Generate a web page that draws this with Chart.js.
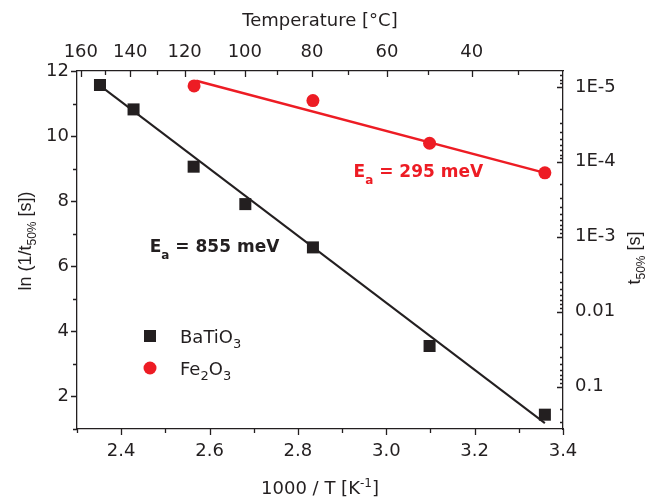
<!DOCTYPE html>
<html>
<head>
<meta charset="utf-8">
<title>Arrhenius plot</title>
<script src="https://cdn.jsdelivr.net/npm/chart.js@4.4.1/dist/chart.umd.min.js"></script>
<style>
  html, body { margin: 0; padding: 0; background: #fff; }
  canvas { display: block; }
</style>
</head>
<body>
<canvas id="arrhenius" width="648" height="497"></canvas>
<script>
// measured points: 1000/T [1/K] against ln(1/t50%)
const invT_BaTiO3 = [2.352, 2.428, 2.564, 2.681, 2.834, 3.098, 3.359];
const lnRate_BaTiO3 = [11.57, 10.82, 9.06, 7.91, 6.58, 3.55, 1.44];
const invT_Fe2O3 = [2.565, 2.834, 3.098, 3.359];
const lnRate_Fe2O3 = [11.54, 11.09, 9.78, 8.87];

// fitted Arrhenius lines (end points)
const fitX_BaTiO3 = [2.352, 3.359];
const fitY_BaTiO3 = [11.55, 1.18];
const fitX_Fe2O3 = [2.570, 3.359];
const fitY_Fe2O3 = [11.70, 8.87];

// axes
const invTTicks = [2.4, 2.6, 2.8, 3.0, 3.2, 3.4];
const invTMinor = [2.3, 2.5, 2.7, 2.9, 3.1, 3.3];
const lnTicks = [2, 4, 6, 8, 10, 12];
const lnMinor = [1, 3, 5, 7, 9, 11];
const tempTicks = [160, 140, 120, 100, 80, 60, 40];
const tempMinor = [150, 130, 110, 90, 70, 50, 30];
const t50Ticks = ['1E-5', '1E-4', '1E-3', '0.01', '0.1'];

const INK = '#231f20';
const RED = '#ed1c24';
const SANS = '"DejaVu Sans", sans-serif';
const ARIAL = '"Liberation Sans", Arial, sans-serif';

const toInvT = T => 1000 / (T + 273.15);
const toLn = t => -Math.log(t);

function pts(xs, ys) {
  return xs.map((x, i) => ({ x: x, y: ys[i] }));
}

// text with sub/superscripts: parts = [[text, 'sub'|'sup'|null], ...]
function partsWidth(ctx, parts, font, small) {
  let w = 0;
  parts.forEach(([t, k]) => { ctx.font = k ? small : font; w += ctx.measureText(t).width; });
  return w;
}
function drawParts(ctx, parts, x, y, font, small, subDy, supDy) {
  parts.forEach(([t, k]) => {
    ctx.font = k ? small : font;
    const dy = k === 'sub' ? subDy : (k === 'sup' ? supDy : 0);
    ctx.fillText(t, x, y + dy);
    x += ctx.measureText(t).width;
  });
}

const decorPlugin = {
  id: 'decor',
  afterDraw(chart) {
    const ctx = chart.ctx;
    const ca = chart.chartArea;
    const sx = chart.scales.x, sy = chart.scales.y;
    const sTop = chart.scales.xTop, sRight = chart.scales.yRight;
    ctx.save();
    ctx.strokeStyle = INK;
    ctx.lineWidth = 1.3;
    ctx.beginPath();
    // left: outward
    lnTicks.forEach(v => { const p = Math.round(sy.getPixelForValue(v)) + 0.5; ctx.moveTo(ca.left, p); ctx.lineTo(ca.left - 6, p); });
    lnMinor.forEach(v => { const p = Math.round(sy.getPixelForValue(v)) + 0.5; ctx.moveTo(ca.left, p); ctx.lineTo(ca.left - 4, p); });
    // bottom: outward
    invTTicks.forEach(v => { const p = Math.round(sx.getPixelForValue(v)) + 0.5; ctx.moveTo(p, ca.bottom); ctx.lineTo(p, ca.bottom + 6); });
    invTMinor.forEach(v => { const p = Math.round(sx.getPixelForValue(v)) + 0.5; ctx.moveTo(p, ca.bottom); ctx.lineTo(p, ca.bottom + 4); });
    // top: inward
    tempTicks.forEach(T => { const p = Math.round(sTop.getPixelForValue(toInvT(T))) + 0.5; ctx.moveTo(p, ca.top); ctx.lineTo(p, ca.top + 6); });
    tempMinor.forEach(T => { const p = Math.round(sTop.getPixelForValue(toInvT(T))) + 0.5; ctx.moveTo(p, ca.top); ctx.lineTo(p, ca.top + 4); });
    // right: inward, log decades
    for (let n = -6; n <= 0; n++) {
      for (let k = 1; k <= 9; k++) {
        const v = toLn(k * Math.pow(10, n));
        if (v < 1 || v > 12) continue;
        const p = Math.round(sRight.getPixelForValue(v)) + 0.5;
        ctx.moveTo(ca.right, p);
        ctx.lineTo(ca.right - (k === 1 ? 6 : 3), p);
      }
    }
    ctx.stroke();

    ctx.fillStyle = INK;
    ctx.textBaseline = 'alphabetic';
    const f18 = '18px ' + SANS, s12 = '12px ' + SANS;

    // top title
    let parts = [['Temperature [°C]', null]];
    let w = partsWidth(ctx, parts, f18, s12);
    drawParts(ctx, parts, (ca.left + ca.right) / 2 - w / 2, 26, f18, s12, 0, 0);

    // bottom title
    parts = [['1000 / T [K', null], ['-1', 'sup'], [']', null]];
    w = partsWidth(ctx, parts, f18, s12);
    drawParts(ctx, parts, (ca.left + ca.right) / 2 - w / 2, 494, f18, s12, 0, -7);

    // left title (rotated)
    const a18 = '18px ' + ARIAL, a12 = '12px ' + ARIAL;
    parts = [['ln (1/t', null], ['50%', 'sub'], [' [s])', null]];
    w = partsWidth(ctx, parts, a18, a12);
    ctx.save();
    ctx.translate(31, 241);
    ctx.rotate(-Math.PI / 2);
    drawParts(ctx, parts, -w / 2, 0, a18, a12, 5, 0);
    ctx.restore();

    // right title (rotated)
    parts = [['t', null], ['50%', 'sub'], [' [s]', null]];
    w = partsWidth(ctx, parts, a18, a12);
    ctx.save();
    ctx.translate(640, 258);
    ctx.rotate(-Math.PI / 2);
    drawParts(ctx, parts, -w / 2, 0, a18, a12, 5, 0);
    ctx.restore();

    // activation energies
    const b17 = 'bold 17px ' + SANS, b12 = 'bold 12px ' + SANS;
    ctx.fillStyle = INK;
    drawParts(ctx, [['E', null], ['a', 'sub'], [' = 855 meV', null]],
      sx.getPixelForValue(2.4646), sy.getPixelForValue(6.43), b17, b12, 7, 0);
    ctx.fillStyle = RED;
    drawParts(ctx, [['E', null], ['a', 'sub'], [' = 295 meV', null]],
      sx.getPixelForValue(2.926), sy.getPixelForValue(8.73), b17, b12, 7, 0);

    // legend
    const lx = ca.left + 73, ly1 = ca.top + 265, ly2 = ca.top + 297;
    ctx.fillStyle = INK;
    ctx.fillRect(lx - 6, ly1 - 6, 12, 12);
    ctx.fillStyle = RED;
    ctx.beginPath();
    ctx.arc(lx, ly2, 6.5, 0, Math.PI * 2);
    ctx.fill();
    ctx.fillStyle = INK;
    drawParts(ctx, [['BaTiO', null], ['3', 'sub']], lx + 30, ly1 + 7, f18, '13px ' + SANS, 5, 0);
    drawParts(ctx, [['Fe', null], ['2', 'sub'], ['O', null], ['3', 'sub']], lx + 30, ly2 + 7, f18, '13px ' + SANS, 5, 0);
    ctx.restore();
  }
};

const tickFont = { family: SANS, size: 18 };

new Chart(document.getElementById('arrhenius'), {
  type: 'scatter',
  data: {
    datasets: [
      {
        label: 'BaTiO3',
        data: pts(invT_BaTiO3, lnRate_BaTiO3),
        pointStyle: 'rect',
        pointRadius: 8.5,
        backgroundColor: INK,
        borderColor: INK,
        borderWidth: 0,
        order: 0
      },
      {
        label: 'Fe2O3',
        data: pts(invT_Fe2O3, lnRate_Fe2O3),
        pointStyle: 'circle',
        pointRadius: 6.5,
        backgroundColor: RED,
        borderColor: RED,
        borderWidth: 0,
        order: 0
      },
      {
        label: 'fit BaTiO3',
        data: pts(fitX_BaTiO3, fitY_BaTiO3),
        showLine: true,
        pointRadius: 0,
        borderColor: INK,
        borderWidth: 2,
        order: 1
      },
      {
        label: 'fit Fe2O3',
        data: pts(fitX_Fe2O3, fitY_Fe2O3),
        showLine: true,
        pointRadius: 0,
        borderColor: RED,
        borderWidth: 2.5,
        order: 1
      }
    ]
  },
  options: {
    responsive: false,
    animation: false,
    layout: { padding: 0, autoPadding: false },
    plugins: { legend: { display: false }, tooltip: { enabled: false } },
    scales: {
      x: {
        type: 'linear', position: 'bottom', min: 2.3, max: 3.4,
        afterBuildTicks: s => { s.ticks = invTTicks.map(v => ({ value: v })); },
        afterFit: s => { s.height = 68; },
        ticks: { font: tickFont, color: INK, padding: 12, maxRotation: 0, autoSkip: false, callback: v => v.toFixed(1) },
        grid: { display: false, drawTicks: false },
        border: { display: true, color: INK, width: 1.3 }
      },
      xTop: {
        type: 'linear', position: 'top', min: 2.3, max: 3.4,
        afterBuildTicks: s => { s.ticks = tempTicks.map(T => ({ value: toInvT(T) })); },
        afterFit: s => { s.height = 71; },
        ticks: { font: tickFont, color: INK, padding: 8, maxRotation: 0, autoSkip: false, callback: v => String(Math.round(1000 / v - 273.15)) },
        grid: { display: false, drawTicks: false },
        border: { display: true, color: INK, width: 1.3 }
      },
      y: {
        type: 'linear', position: 'left', min: 1, max: 12,
        afterBuildTicks: s => { s.ticks = lnTicks.map(v => ({ value: v })); },
        afterFit: s => { s.width = 77; },
        ticks: { font: tickFont, color: INK, padding: 8, autoSkip: false, callback: v => String(v) },
        grid: { display: false, drawTicks: false },
        border: { display: true, color: INK, width: 1.3 }
      },
      yRight: {
        type: 'linear', position: 'right', min: 1, max: 12,
        afterBuildTicks: s => { s.ticks = t50Ticks.map(t => ({ value: toLn(parseFloat(t)) })); },
        afterFit: s => { s.width = 85; },
        ticks: { font: tickFont, color: INK, padding: 12, autoSkip: false, callback: (v, i) => t50Ticks[i] },
        grid: { display: false, drawTicks: false },
        border: { display: true, color: INK, width: 1.3 }
      }
    }
  },
  plugins: [decorPlugin]
});
</script>
</body>
</html>
